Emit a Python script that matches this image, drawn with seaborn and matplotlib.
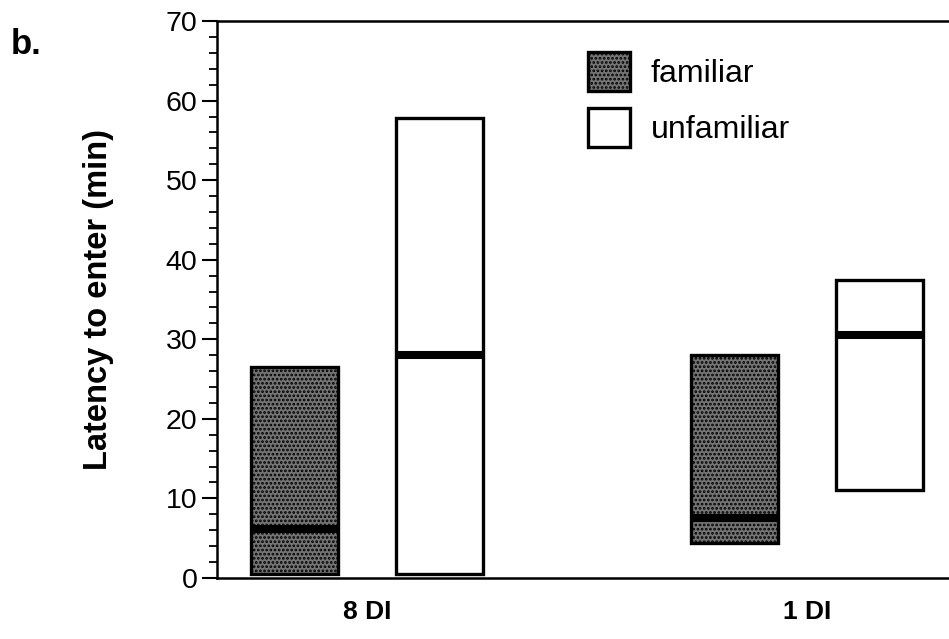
import matplotlib
matplotlib.use("Agg")
import matplotlib.pyplot as plt
import seaborn as sns
import pandas as pd
import numpy as np
from matplotlib.patches import Patch

# data (minutes)
groups = ["8 DI", "1 DI"]
conditions = ["familiar", "unfamiliar"]
familiar_low = [0.5, 4.4]
familiar_high = [26.5, 28.0]
familiar_median = [6.1, 7.6]
unfamiliar_low = [0.5, 11.1]
unfamiliar_high = [57.8, 37.4]
unfamiliar_median = [28.0, 30.6]
yticks = [0, 10, 20, 30, 40, 50, 60, 70]

sns.set_theme(style="ticks")
plt.rcParams["font.family"] = ["Liberation Sans", "DejaVu Sans"]
for k in ["text.color", "axes.labelcolor", "xtick.color", "ytick.color", "axes.edgecolor"]:
    plt.rcParams[k] = "black"
plt.rcParams["hatch.linewidth"] = 1.3

fig = plt.figure(figsize=(9.49, 6.39), dpi=100)
ax = fig.add_axes([0.2287, 0.0955, 0.775, 0.8716])

colors = {"familiar": "#747474", "unfamiliar": "#ffffff"}
hatches = {"familiar": "....", "unfamiliar": ""}
lows = {"familiar": familiar_low, "unfamiliar": unfamiliar_low}
highs = {"familiar": familiar_high, "unfamiliar": unfamiliar_high}
meds = {"familiar": familiar_median, "unfamiliar": unfamiliar_median}

rows = []
for cond in conditions:
    for g, hi in zip(groups, highs[cond]):
        rows.append({"group": g, "condition": cond, "high": hi})
df = pd.DataFrame(rows)

sns.barplot(data=df, x="group", y="high", hue="condition",
            hue_order=conditions, order=groups, dodge=True, gap=0.4,
            palette=colors, width=0.66, edgecolor="black", linewidth=2.4,
            ax=ax, legend=False, errorbar=None, saturation=1)

# turn bars into floating range bars (low..high) and add median bands
for cond, cont in zip(conditions, ax.containers):
    for i, patch in enumerate(cont.patches):
        lo, hi = lows[cond][i], highs[cond][i]
        patch.set_y(lo)
        patch.set_height(hi - lo)
        patch.set_hatch(hatches[cond])
        x0 = patch.get_x()
        w = patch.get_width()
        ax.hlines(meds[cond][i], x0, x0 + w, color="black", linewidth=5.8, zorder=5)

ax.set_xlim(-0.34, 1.33)
ax.set_ylim(0, 70)
ax.set_yticks(yticks)
ax.set_yticklabels([str(t) for t in yticks], fontsize=20.5)
ax.set_yticks(np.arange(0, 71, 2), minor=True)
ax.tick_params(axis="y", which="major", length=11, width=1.5, direction="out", pad=3)
ax.tick_params(axis="y", which="minor", length=5.5, width=1.3, direction="out")
ax.tick_params(axis="x", length=0, pad=16)
for lbl in ax.get_xticklabels():
    lbl.set_fontsize(19)
    lbl.set_fontweight("bold")
ax.set_xlabel("")
ax.set_ylabel("Latency to enter (min)", fontsize=23.5, fontweight="bold", labelpad=37)

for s in ["left", "bottom", "top"]:
    ax.spines[s].set_linewidth(1.8)
    ax.spines[s].set_color("black")
ax.spines["right"].set_visible(False)

handles = [Patch(facecolor=colors[c], edgecolor="black", linewidth=2.4,
                 hatch=hatches[c], label=c) for c in conditions]
ax.legend(handles=handles, loc="upper left", bbox_to_anchor=(0.505, 0.945),
          frameon=False, fontsize=23, handlelength=1.3, handleheight=1.5,
          handletextpad=0.65, labelspacing=0.55, borderpad=0, borderaxespad=0)

fig.text(0.011, 0.916, "b.", fontsize=25, fontweight="bold")

fig.savefig("out.png", dpi=100)
